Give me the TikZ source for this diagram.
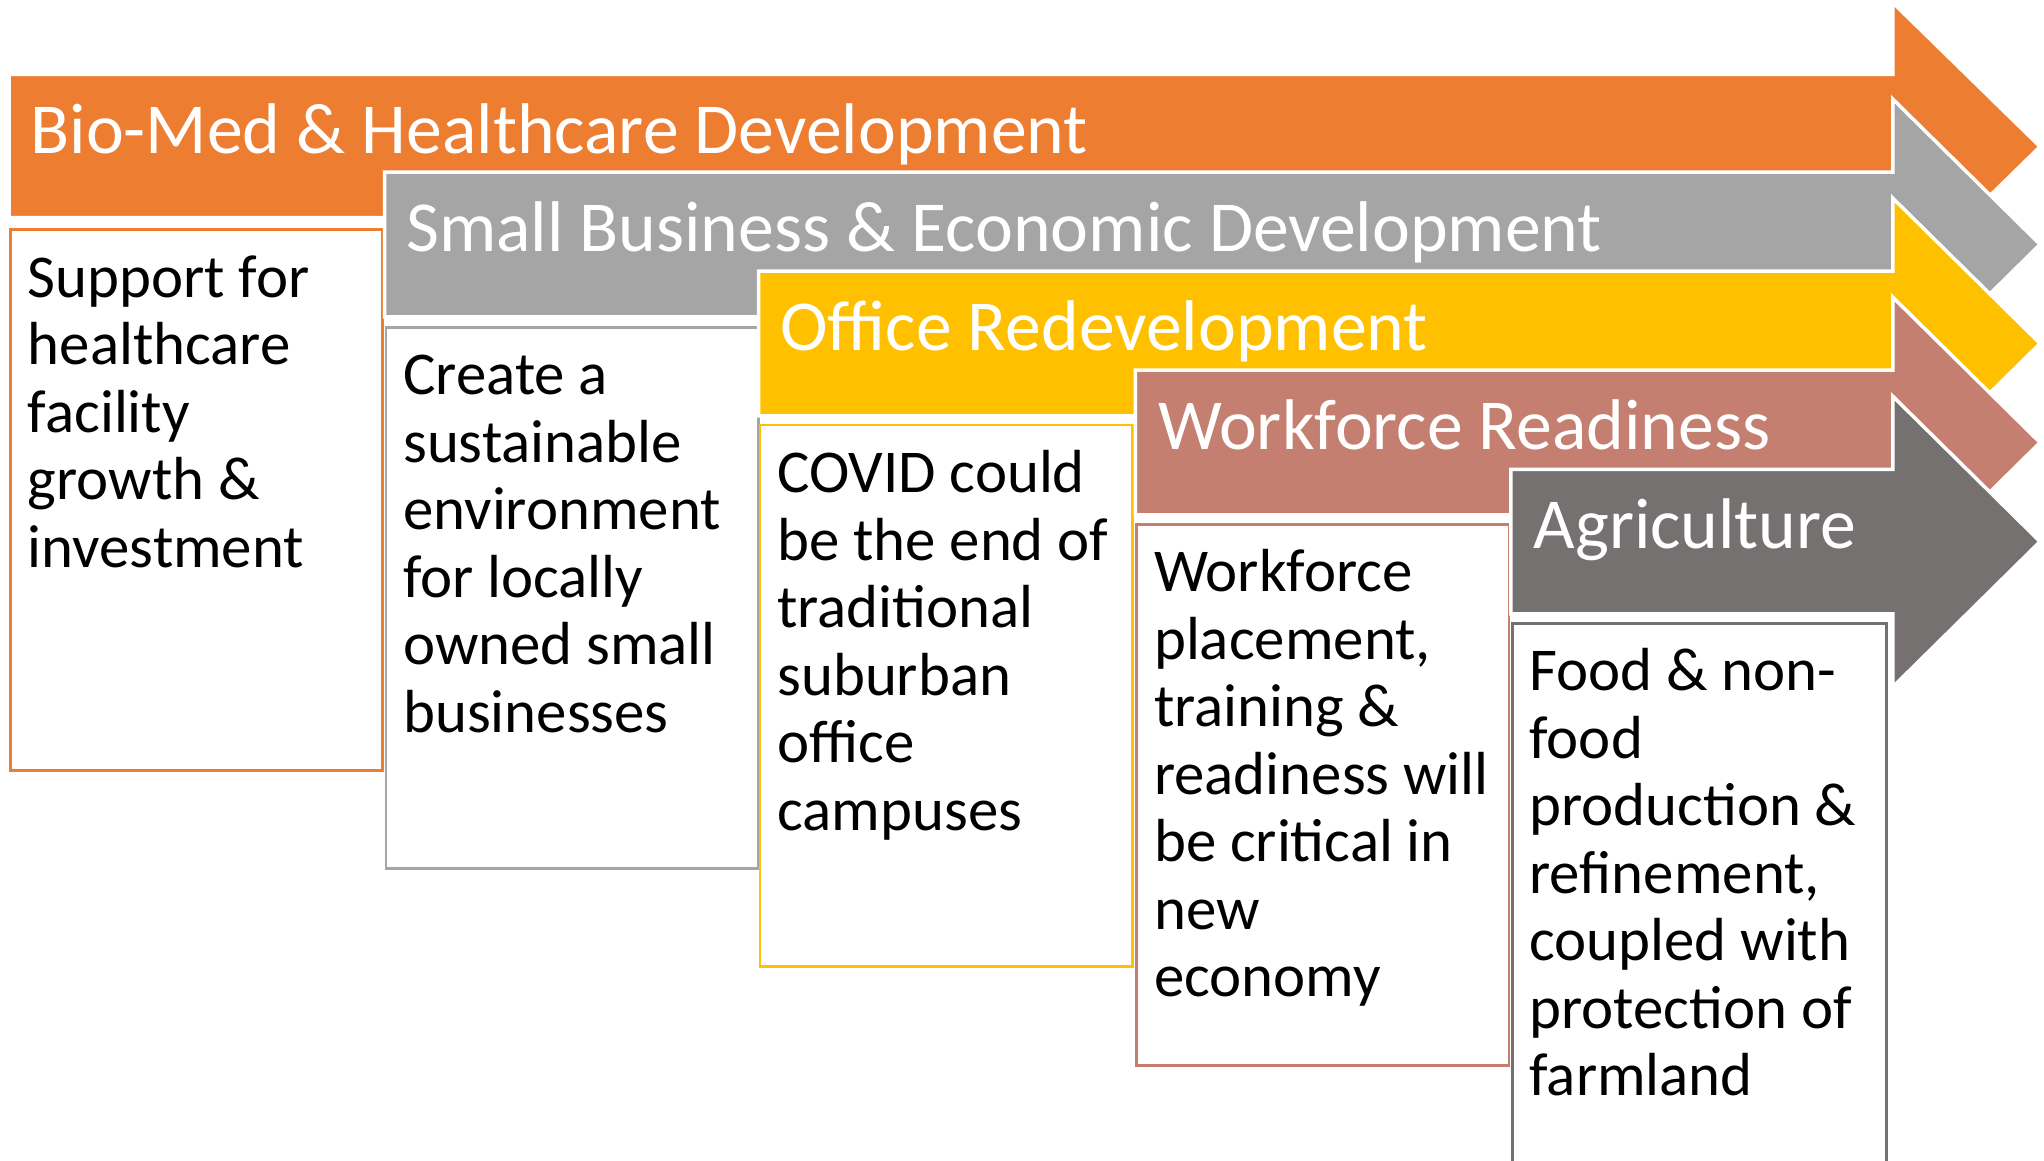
\documentclass[tikz,border=0pt]{standalone}
\usepackage{fontspec}
\setmainfont{Carlito}
\usetikzlibrary{positioning}

\definecolor{bioorange}{HTML}{ED7D31}
\definecolor{bizgray}{HTML}{A5A5A5}
\definecolor{officegold}{HTML}{FFC000}
\definecolor{workrose}{HTML}{C47F70}
\definecolor{agridark}{HTML}{767171}

\begin{document}
\begin{tikzpicture}[x=0.013036cm, y=-0.013036cm,
band/.style = {draw=white, line width=1pt},
title/.style = {anchor=base west, inner sep=0, text=white,
font=\fontsize{20.4}{24}\selectfont},
card/.style = {rectangle, draw, fill=white, line width=0.8pt,
anchor=north west, minimum width=3.72cm, minimum height=5.41cm},
cardtext/.style = {inner sep=0, align=left,
font=\fontsize{17.3}{19.2}\selectfont},
node distance=2.1mm and 1.8mm
]
  \useasboundingbox (0,0) rectangle (1568,890);

  % Bio-Med
  \draw[band, fill=bioorange] (7,57) -- (1452,57) -- (1452,2) -- (1565,112.5) -- (1452,223) -- (1452,167) -- (7,167) -- cycle;
  \node (biotitle) [title] at (23,118) {Bio-Med \& Healthcare Development};
  \node (bio)      [card, draw=bioorange] at (7,175) {};
  \node (biotext)  [cardtext, below right=of bio.north west] {\strut Support for\\healthcare\\facility\\growth \&\\investment};

  % Small business
  \draw[band, fill=bizgray] (295,132) -- (1452,132) -- (1452,76) -- (1565,187.5) -- (1452,299) -- (1452,243) -- (295,243) -- cycle;
  \node (biztitle) [title] at (311,193) {Small Business \& Economic Development};
  \node (biz)      [card, draw=bizgray] at (295,250) {};
  \node (biztext)  [cardtext, below right=of biz.north west] {\strut Create a\\sustainable\\environment\\for locally\\owned small\\businesses};

  % Office
  \draw[band, fill=officegold] (582,208) -- (1452,208) -- (1452,152) -- (1565,263.5) -- (1452,375) -- (1452,319) -- (582,319) -- cycle;
  \node (officetitle) [title] at (598,269) {Office Redevelopment};
  \node (office)      [card, draw=officegold] at (582,325) {};
  \node (officetext)  [cardtext, below right=of office.north west] {\strut COVID could\\be the end of\\traditional\\suburban\\office\\campuses};

  % Workforce
  \draw[band, fill=workrose] (871,284) -- (1452,284) -- (1452,228) -- (1565,339.5) -- (1452,451) -- (1452,395) -- (871,395) -- cycle;
  \node (worktitle) [title] at (888,345) {Workforce Readiness};
  \node (work)      [card, draw=workrose] at (871,401) {};
  \node (worktext)  [cardtext, below right=of work.north west] {\strut Workforce\\placement,\\training \&\\readiness will\\be critical in\\new\\economy};

  % Agriculture
  \draw[band, fill=agridark] (1159,360) -- (1452,360) -- (1452,304) -- (1565,415.5) -- (1452,527) -- (1452,471) -- (1159,471) -- cycle;
  \node (agrititle) [title] at (1176,421) {Agriculture};
  \node (agri)      [card, draw=agridark, minimum width=3.74cm, minimum height=5.8cm] at (1159,477) {};
  \node (agritext)  [cardtext, below right=of agri.north west] {\strut Food \& non-\\food\\production \&\\refinement,\\coupled with\\protection of\\farmland};

\end{tikzpicture}
\end{document}
